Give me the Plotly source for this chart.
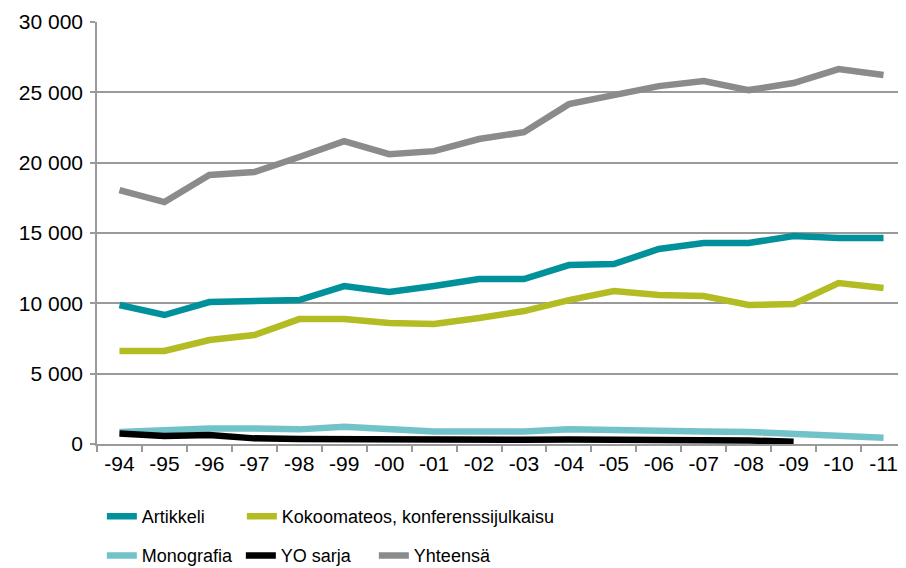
import plotly.graph_objects as go

years = ["-94", "-95", "-96", "-97", "-98", "-99", "-00", "-01", "-02", "-03",
         "-04", "-05", "-06", "-07", "-08", "-09", "-10", "-11"]

artikkeli = [9880, 9170, 10090, 10160, 10230, 11230, 10800, 11230, 11730, 11730,
             12720, 12790, 13860, 14290, 14290, 14780, 14640, 14640]
kokoomateos = [6610, 6610, 7390, 7750, 8880, 8880, 8600, 8530, 8960, 9450,
               10230, 10870, 10590, 10520, 9880, 9950, 11440, 11090]
monografia = [850, 1000, 1110, 1110, 1040, 1230, 1000, 880, 880, 880,
              1040, 950, 880, 880, 860, 710, 520, 450]
yo_sarja = [750, 570, 640, 400, 355, 330, 355, 240, 330, 300,
            320, 320, 280, 270, 250, 165, None, None]
yhteensa = [18050, 17200, 19120, 19330, 20400, 21530, 20600, 20820, 21680, 22170,
            24160, 24800, 25440, 25800, 25160, 25660, 26650, 26230]

y_ticks = [0, 5000, 10000, 15000, 20000, 25000, 30000]
y_tick_text = ["0", "5 000", "10 000", "15 000", "20 000", "25 000", "30 000"]

series = [
    ("Artikkeli", artikkeli, "#00919b", "legend", 95),
    ("Kokoomateos, konferenssijulkaisu", kokoomateos, "#b3bc22", "legend", 320),
    ("Monografia", monografia, "#72c3c9", "legend2", 94),
    ("YO sarja", yo_sarja, "#000000", "legend2", 88),
    ("Yhteensä", yhteensa, "#8b8b8d", "legend2", 120),
]

fig = go.Figure()
for name, vals, color, leg, lw in series:
    fig.add_trace(go.Scatter(
        x=years, y=vals, name=name, mode="lines",
        line=dict(color=color, width=6.5),
        legend=leg, legendwidth=lw, hoverinfo="skip",
    ))

font_family = "Liberation Sans, Arial, sans-serif"

# The page body adds an 8px offset, so the figure is sized 8px smaller.
fig.update_layout(
    width=898, height=560,
    margin=dict(l=89, r=0, t=14, b=124, autoexpand=False),
    plot_bgcolor="white", paper_bgcolor="white",
    font=dict(family=font_family, size=21, color="#000000"),
    showlegend=True,
    legend=dict(orientation="h", x=0.006, xanchor="left", y=-0.128, yanchor="top",
                font=dict(size=18), traceorder="normal", bgcolor="rgba(0,0,0,0)"),
    legend2=dict(orientation="h", x=0.006, xanchor="left", y=-0.221, yanchor="top",
                 font=dict(size=18), traceorder="normal", bgcolor="rgba(0,0,0,0)"),
)

fig.update_xaxes(
    type="category", range=[-0.5, len(years) - 0.5], automargin=False,
    showline=True, linecolor="#9a9a9a", linewidth=1.5,
    ticks="outside", tickson="boundaries", ticklen=6, tickcolor="#9a9a9a", tickwidth=1.5,
    showgrid=False, tickfont=dict(size=21), fixedrange=True,
)
fig.update_yaxes(
    range=[0, 30000], tickvals=y_ticks, ticktext=y_tick_text, automargin=False,
    showline=True, linecolor="#9a9a9a", linewidth=1.5,
    ticks="outside", ticklen=5, tickcolor="#9a9a9a", tickwidth=1.5,
    showgrid=True, gridcolor="#9a9a9a", gridwidth=1.5,
    zeroline=False, tickfont=dict(size=21), ticklabelstandoff=3, fixedrange=True,
)

fig.write_html("out.html")
